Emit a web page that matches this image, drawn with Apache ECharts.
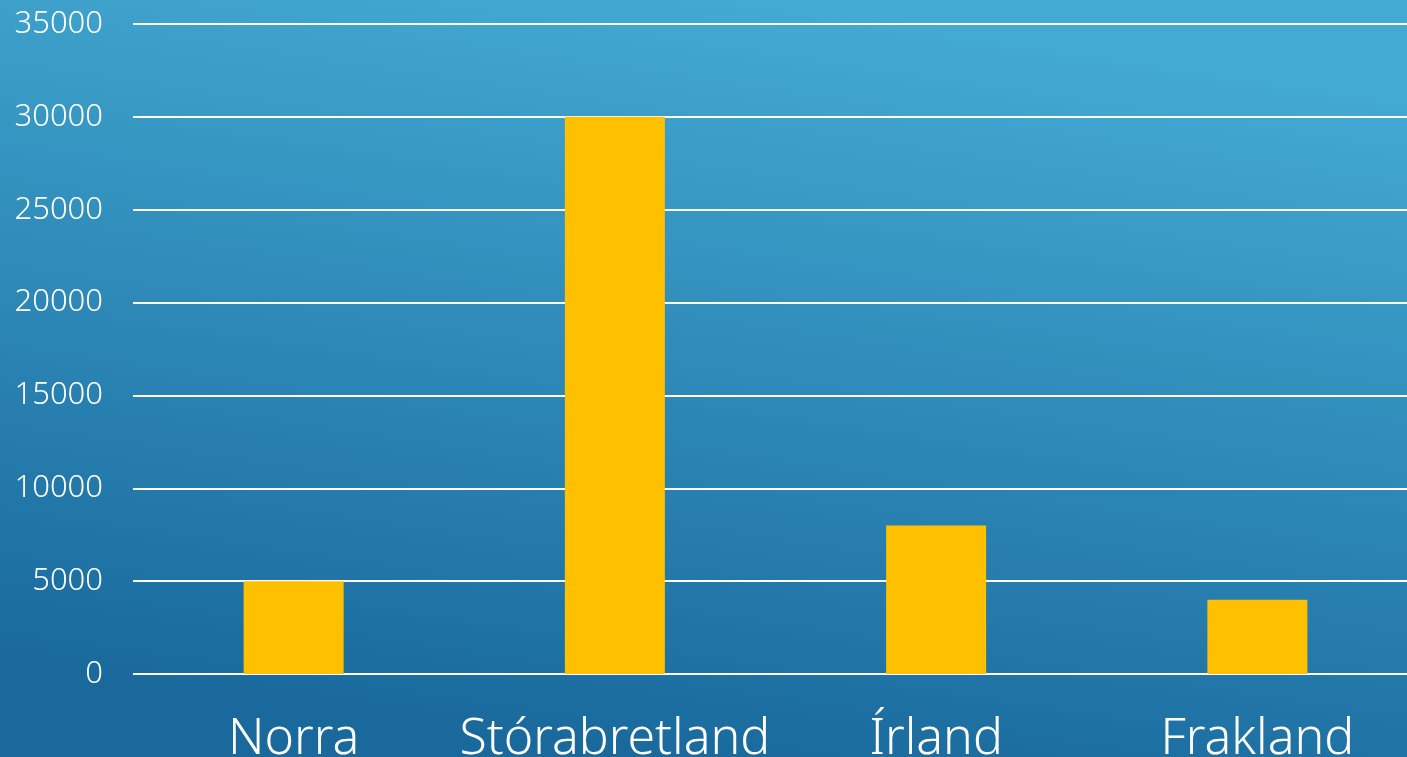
<!DOCTYPE html>
<html>
<head>
<meta charset="utf-8">
<script src="https://cdn.jsdelivr.net/npm/echarts@6/dist/echarts.min.js"></script>
<style>
  html, body { margin: 0; padding: 0; width: 100%; height: 100%; overflow: hidden; }
  #chart { width: 1407px; height: 757px; }
</style>
</head>
<body>
<div id="chart"></div>
<script>
const categories = ['Norra', 'Stórabretland', 'Írland', 'Frakland']
const values = [5000, 30000, 8000, 4000]
const yMin = 0
const yMax = 35000
const yStep = 5000

const chart = echarts.init(document.getElementById('chart'))

chart.setOption({
  backgroundColor: new echarts.graphic.LinearGradient(0.54, 0, 0.46, 1, [
    { offset: 0, color: '#43aad3' },
    { offset: 1, color: '#19699d' }
  ]),
  animation: false,
  // plot band runs slightly past the right edge, as in the source
  grid: { left: 133, right: -11, top: 24, bottom: 83, containLabel: false, outerBoundsMode: 'none' },
  xAxis: {
    type: 'category',
    data: categories,
    axisLine: { show: false },
    axisTick: { show: false },
    axisLabel: {
      interval: 0,
      color: '#fff',
      fontSize: 50,
      fontFamily: 'Noto Sans',
      fontWeight: 300,
      margin: 41
    }
  },
  yAxis: {
    type: 'value',
    min: yMin,
    max: yMax,
    interval: yStep,
    axisLine: { show: false },
    axisTick: { show: false },
    axisLabel: {
      color: '#fff',
      fontSize: 31,
      fontFamily: 'Noto Sans',
      fontWeight: 300,
      margin: 30,
      formatter: v => String(v)
    },
    splitLine: { lineStyle: { color: '#ffffff', width: 2 } }
  },
  series: [{
    type: 'bar',
    data: values,
    barWidth: 100,
    itemStyle: { color: '#ffc000' }
  }]
})
</script>
</body>
</html>
